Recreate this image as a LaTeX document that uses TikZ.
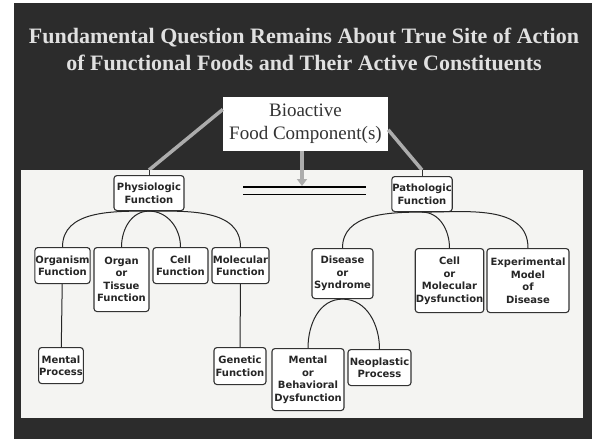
\documentclass[tikz,border=0pt]{standalone}
\usepackage{fontspec}
\setmainfont{Liberation Serif}
\newfontfamily\boxfont{DejaVu Sans}
\usetikzlibrary{arrows.meta}
\definecolor{slate}{HTML}{2C2C2C}
\definecolor{paper}{HTML}{F4F4F2}

\begin{document}
\begin{tikzpicture}[x=1pt, y=-1pt,
  box/.style={draw=black!80, line width=1.1pt, rounded corners=3pt, fill=white, align=center, anchor=north, inner sep=0.5pt, text=black!85, font=\boxfont\bfseries\fontsize{10}{12.5}\selectfont},
  link/.style={draw=black!85, line width=1pt},
  feed/.style={draw=gray!65, line width=3.5pt},
  stub/.style={draw=black!80, line width=0.6pt}
]
\useasboundingbox (0,0) rectangle (597,439);
\fill[white] (0,0) rectangle (597,439);
\fill[slate] (14,3) rectangle (592,439);

% title and the source box
\node[text=black!12, align=center, font=\bfseries\fontsize{22}{27}\selectfont] (title) at (304,49)
  {Fundamental Question Remains About True Site of Action\\of Functional Foods and Their Active Constituents};
\node[fill=white, minimum width=165pt, minimum height=54pt, inner sep=0pt, align=center, text=black!80, font=\fontsize{19}{23}\selectfont] (bio) at (305.5,124)
  {Bioactive\\Food Component(s)};

\coordinate (pin1) at (149,170);
\coordinate (pin2) at (422,170);
\draw[feed] (bio.170) -- (pin1);
\draw[feed] (bio.356) -- (pin2);

\fill[paper] (21,170) rectangle (583,418);

% the two branches
\node[box, minimum width=70pt, minimum height=35pt] (phys) at (149,175) {Physiologic\\Function};
\node[box, minimum width=60pt, minimum height=35pt] (path) at (422,176) {Pathologic\\Function};
\draw[stub] (pin1) -- (phys.north);
\draw[stub] (pin2) -- (path.north);

\coordinate (eq) at (302,186);
\draw[feed, -{Triangle[width=10pt,length=7pt]}] (bio.south -| eq) -- (eq);
\draw[line width=1.5pt, double=paper, double distance=6pt] (243,190.5) -- (366,190.5);

% physiologic side
\node[box, minimum width=55pt, minimum height=36pt] (org) at (62.5,247) {Organism\\Function};
\node[box, minimum width=55pt, minimum height=64pt] (tis) at (121.5,247) {Organ\\or\\Tissue\\Function};
\node[box, minimum width=55pt, minimum height=36pt] (cellf) at (180.5,247) {Cell\\Function};
\node[box, minimum width=57pt, minimum height=36pt] (mol) at (240.5,247) {Molecular\\Function};
\node[box, minimum width=44pt, minimum height=36pt] (ment) at (61,347) {Mental\\Process};
\node[box, minimum width=52pt, minimum height=37pt] (gen) at (240,347) {Genetic\\Function};

\draw[link] (phys.south) to[out=180, in=90] (org.north);
\draw[link] (phys.south) to[out=180, in=90] (tis.north);
\draw[link] (phys.south) to[out=0, in=90] (cellf.north);
\draw[link] (phys.south) to[out=0, in=90] (mol.north);
\draw[link] (org) -- (ment);
\draw[link] (mol) -- (gen);

% pathologic side
\node[box, minimum width=61pt, minimum height=50pt] (dis) at (342.5,248) {Disease\\or\\Syndrome};
\node[box, minimum width=67pt, minimum height=64pt] (cmd) at (449.5,248) {Cell\\or\\Molecular\\Dysfunction};
\node[box, minimum width=82pt, minimum height=64pt] (exp) at (528,248) {Experimental\\Model\\of\\Disease};
\node[box, minimum width=72pt, minimum height=62pt] (mbd) at (308,348) {Mental\\or\\Behavioral\\Dysfunction};
\node[box, minimum width=63pt, minimum height=36pt] (neo) at (379.5,349) {Neoplastic\\Process};

\draw[link] (path.south) to[out=180, in=90] (dis.north);
\draw[link] (path.south) to[out=0, in=90] (cmd.north);
\draw[link] (path.south) to[out=0, in=90] (exp.north);
\draw[link] (dis.south) to[out=180, in=90] (mbd.north);
\draw[link] (dis.south) to[out=0, in=90] (neo.north);
\end{tikzpicture}
\end{document}
